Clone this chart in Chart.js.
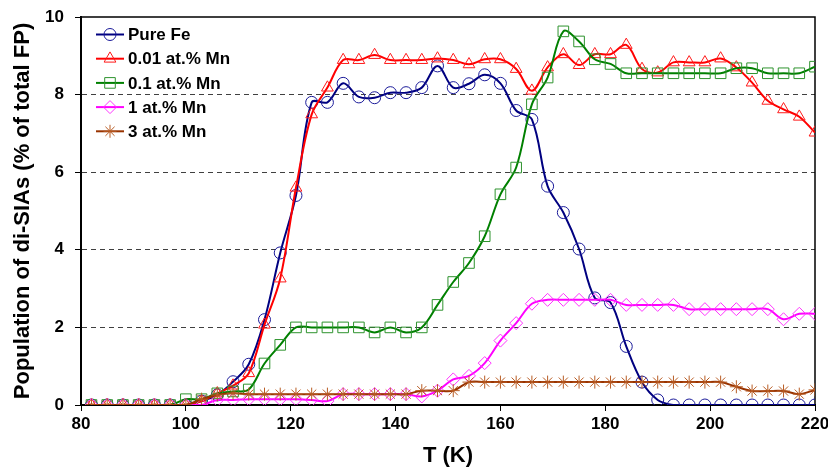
<!DOCTYPE html>
<html>
<head>
<meta charset="utf-8">
<script src="https://cdn.jsdelivr.net/npm/chart.js@4/dist/chart.umd.min.js"></script>
<style>
  html, body { margin: 0; padding: 0; background: #fff; }
  #wrap { width: 828px; height: 473px; }
</style>
</head>
<body>
<div id="wrap"><canvas id="diSiaChart" width="828" height="473"></canvas></div>
<script>
// temperatures (K) of the annealing steps
const temps = [82, 85, 88, 91, 94, 97, 100, 103, 106, 109, 112, 115, 118, 121, 124, 127,
    130, 133, 136, 139, 142, 145, 148, 151, 154, 157, 160, 163, 166, 169, 172, 175,
    178, 181, 184, 187, 190, 193, 196, 199, 202, 205, 208, 211, 214, 217, 220];

// population of di-SIAs (% of total FP)
const pureFe = [0, 0, 0, 0, 0, 0, 0, 0.1, 0.26, 0.6, 1.05, 2.2, 3.92, 5.4, 7.8, 7.8,
    8.29, 7.94, 7.92, 8.05, 8.05, 8.18, 8.74, 8.18, 8.28, 8.51, 8.29, 7.59, 7.36, 5.64, 4.96, 4.02,
    2.76, 2.64, 1.51, 0.59, 0.13, 0, 0, 0, 0, 0, 0, 0, 0, 0, 0];
const mn001 = [0, 0, 0, 0, 0, 0, 0, 0.1, 0.3, 0.5, 0.82, 2.07, 3.26, 5.6, 7.49, 8.18,
    8.89, 8.89, 9.02, 8.89, 8.89, 8.89, 8.93, 8.89, 8.78, 8.91, 8.91, 8.66, 8.1, 8.7, 9.04, 8.76,
    9.04, 9.04, 9.28, 8.66, 8.57, 8.83, 8.83, 8.83, 8.93, 8.7, 8.31, 7.84, 7.62, 7.43, 7.02];
const mn01 = [0, 0, 0, 0, 0, 0, 0.15, 0.15, 0.3, 0.35, 0.4, 1.07, 1.55, 2.0, 2.0, 2.0,
    2.0, 2.0, 1.87, 2.0, 1.87, 2.0, 2.58, 3.17, 3.66, 4.35, 5.43, 6.12, 7.75, 8.44, 9.63, 9.37,
    8.91, 8.79, 8.55, 8.55, 8.55, 8.55, 8.55, 8.55, 8.55, 8.68, 8.68, 8.55, 8.55, 8.55, 8.72];
const mn1 = [0, 0, 0, 0, 0, 0, 0, 0, 0.13, 0.13, 0.15, 0.15, 0.15, 0.15, 0.13, 0.1,
    0.28, 0.28, 0.28, 0.28, 0.28, 0.22, 0.37, 0.66, 0.75, 1.08, 1.66, 2.11, 2.61, 2.71, 2.71, 2.71,
    2.71, 2.71, 2.58, 2.58, 2.58, 2.58, 2.47, 2.47, 2.47, 2.47, 2.47, 2.47, 2.21, 2.35, 2.35];
const mn3 = [0, 0, 0, 0, 0, 0, 0, 0.15, 0.26, 0.3, 0.28, 0.28, 0.28, 0.28, 0.28, 0.28,
    0.28, 0.28, 0.28, 0.28, 0.28, 0.37, 0.37, 0.37, 0.59, 0.59, 0.59, 0.59, 0.59, 0.59, 0.59, 0.59,
    0.59, 0.59, 0.59, 0.59, 0.59, 0.59, 0.59, 0.59, 0.59, 0.47, 0.36, 0.36, 0.36, 0.28, 0.39];

const seriesLabels = ['Pure Fe', '0.01 at.% Mn', '0.1 at.% Mn', '1 at.% Mn', '3 at.% Mn'];
const xTicks = [80, 100, 120, 140, 160, 180, 200, 220];
const yTicks = [0, 2, 4, 6, 8, 10];

const FONT = '"Liberation Sans", Arial, sans-serif';

function toPoints(values) {
    return temps.map((t, i) => ({ x: t, y: values[i] }));
}

function makeSet(idx, values, color, markerColor, style, radius) {
    return {
        label: seriesLabels[idx],
        data: toPoints(values),
        borderColor: color,
        borderWidth: 2,
        pointStyle: style,
        pointRadius: radius,
        pointBorderColor: markerColor,
        pointBorderWidth: 1,
        pointBackgroundColor: 'rgba(0,0,0,0)',
        tension: 0.35,
        fill: false,
        order: 5 - idx
    };
}

// legend drawn inside the plot, line + marker + text like the original
const insideLegend = {
    id: 'insideLegend',
    afterDatasetsDraw(chart) {
        const ctx = chart.ctx;
        ctx.save();
        chart.data.datasets.forEach((ds, i) => {
            const y = 34.5 + i * 24.2;
            ctx.strokeStyle = ds.borderColor;
            ctx.lineWidth = 2;
            ctx.beginPath();
            ctx.moveTo(96, y);
            ctx.lineTo(124, y);
            ctx.stroke();
            ctx.lineWidth = 1;
            ctx.strokeStyle = ds.pointBorderColor;
            ctx.fillStyle = 'rgba(0,0,0,0)';
            Chart.helpers.drawPoint(ctx, {
                pointStyle: ds.pointStyle, radius: ds.pointRadius, rotation: 0, borderWidth: 1
            }, 110, y);
            ctx.fillStyle = '#000';
            ctx.font = 'bold 17px ' + FONT;
            ctx.textBaseline = 'middle';
            ctx.textAlign = 'left';
            ctx.fillText(ds.label, 128, y + 1);
        });
        ctx.restore();
    }
};

// top and right border of the plot area
const plotFrame = {
    id: 'plotFrame',
    beforeDatasetsDraw(chart) {
        const a = chart.chartArea;
        const ctx = chart.ctx;
        ctx.save();
        ctx.strokeStyle = '#000';
        ctx.lineWidth = 1.5;
        ctx.beginPath();
        ctx.moveTo(a.left, a.top);
        ctx.lineTo(a.right, a.top);
        ctx.lineTo(a.right, a.bottom);
        ctx.stroke();
        ctx.restore();
    }
};

new Chart(document.getElementById('diSiaChart'), {
    type: 'line',
    data: {
        datasets: [
            makeSet(0, pureFe, '#000080', '#1a1a99', 'circle', 6),
            makeSet(1, mn001, '#ff0000', '#ff1a1a', 'triangle', 6.8),
            makeSet(2, mn01, '#008000', '#2e932e', 'rect', 7.5),
            makeSet(3, mn1, '#ff00ff', '#ff33ff', 'rectRot', 6.5),
            makeSet(4, mn3, '#993300', '#b85c24', 'star', 6.5)
        ]
    },
    options: {
        responsive: false,
        animation: false,
        layout: { padding: { top: 17, right: 13, left: 0, bottom: 0 } },
        plugins: {
            legend: { display: false },
            tooltip: { enabled: false }
        },
        scales: {
            x: {
                type: 'linear',
                min: 80,
                max: 220,
                afterBuildTicks: s => { s.ticks = xTicks.map(v => ({ value: v })); },
                afterFit: s => { s.height = 68; s.paddingLeft = 0; s.paddingRight = 0; },
                ticks: {
                    color: '#000',
                    font: { family: FONT, size: 17, weight: 'bold' },
                    padding: 3,
                    maxRotation: 0,
                    autoSkip: false
                },
                grid: {
                    drawOnChartArea: false,
                    tickLength: 6,
                    tickColor: '#000',
                    color: '#000'
                },
                border: { color: '#000', width: 2 },
                title: {
                    display: true,
                    text: 'T (K)',
                    color: '#000',
                    font: { family: FONT, size: 22, weight: 'bold' },
                    padding: { top: 4, bottom: 4 }
                }
            },
            y: {
                min: 0,
                max: 10,
                afterBuildTicks: s => { s.ticks = yTicks.map(v => ({ value: v })); },
                afterFit: s => { s.width = 81; s.paddingTop = 0; s.paddingBottom = 0; },
                ticks: {
                    color: '#000',
                    font: { family: FONT, size: 17, weight: 'bold' },
                    padding: 11
                },
                grid: {
                    color: c => (c.tick && (c.tick.value === 0 || c.tick.value === 10)) ? 'rgba(0,0,0,0)' : '#404040',
                    tickColor: '#000',
                    tickLength: 6,
                    lineWidth: 1
                },
                border: { color: '#000', width: 2, dash: [5, 4] },
                title: {
                    display: true,
                    text: 'Population of di-SIAs (% of total FP)',
                    color: '#000',
                    font: { family: FONT, size: 22, weight: 'bold' },
                    padding: { top: 10, bottom: 4 }
                }
            }
        }
    },
    plugins: [plotFrame, insideLegend]
});
</script>
</body>
</html>
